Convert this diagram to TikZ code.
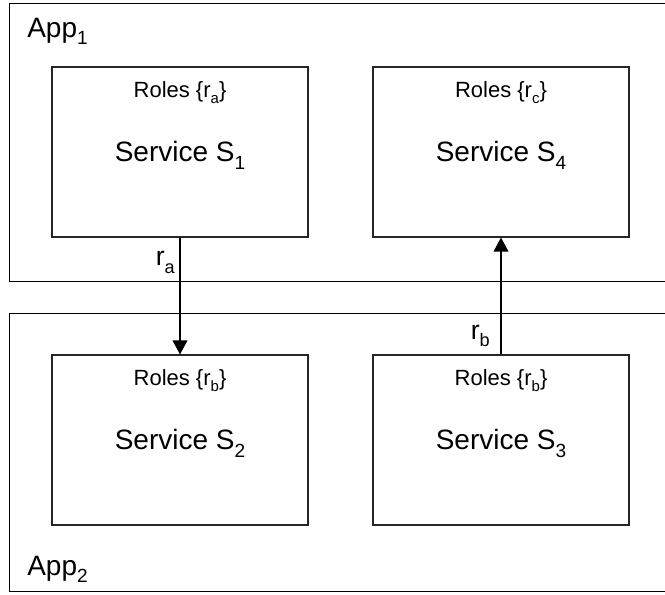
\documentclass[tikz,border=0pt]{standalone}
\usepackage{fontspec}
\setmainfont{Liberation Sans}
\usetikzlibrary{arrows.meta,calc}
% lowered, reduced subscript in the style of the drawing
\newcommand\lowsub[1]{\raisebox{-0.28em}{\scalebox{0.68}{#1}}}
\def\px{0.75pt}
\begin{document}
\begin{tikzpicture}[x=0.75pt,y=-0.75pt,
  appbox/.style={draw=black,line width=1.1pt,minimum width=657*\px,
    minimum height=278*\px,anchor=north west,inner sep=0pt},
  svcbox/.style={draw=black!85,line width=0.8pt,minimum width=256*\px,
    minimum height=170*\px,inner sep=0pt},
  applabel/.style={anchor=base west,inner sep=0pt,font=\fontsize{21}{24}\selectfont},
  roleslabel/.style={anchor=base,inner sep=0pt,font=\fontsize{16.5}{19}\selectfont},
  svclabel/.style={anchor=base,inner sep=0pt,font=\fontsize{21}{24}\selectfont},
  edgelabel/.style={anchor=base east,inner sep=0pt,font=\fontsize{20}{23}\selectfont},
  link/.style={draw=black,line width=0.9pt,-{Triangle[length=10.5pt,width=11pt]}}
]
\useasboundingbox (0,0) rectangle (665,594);

% application containers
\node[appbox] (app1) at (8.5,2.5) {};
\node[appbox] (app2) at (8.5,312.5) {};
\node[applabel] (app1lbl) at ($(app1.north west)+(18.5,34.5)$) {App\lowsub{1}};
\node[applabel] (app2lbl) at ($(app2.north west)+(18.5,262.5)$) {App\lowsub{2}};

% services
\node[svcbox] (s1) at (180,152) {};
\node[svcbox] (s4) at (501,152) {};
\node[svcbox] (s2) at (180,440) {};
\node[svcbox] (s3) at (501,440) {};

\foreach \s/\r/\n in {s1/a/1, s4/c/4, s2/b/2, s3/b/3}{
  \node[roleslabel] (\s roles) at ($(\s.north)+(0,31)$) {Roles \{r\lowsub{\r}\}};
  \node[svclabel] (\s name) at ($(\s.north)+(0,95)$) {Service S\lowsub{\n}};
}

% role requests between services
\draw[link] (s1.south) -- (s2.north);
\draw[link] (s3.north) -- (s4.south);
\node[edgelabel] (ra) at ($(s1.south)+(-5,28)$) {r\lowsub{a}};
\node[edgelabel] (rb) at ($(s3.north)+(-11,-15)$) {r\lowsub{b}};
\end{tikzpicture}
\end{document}
